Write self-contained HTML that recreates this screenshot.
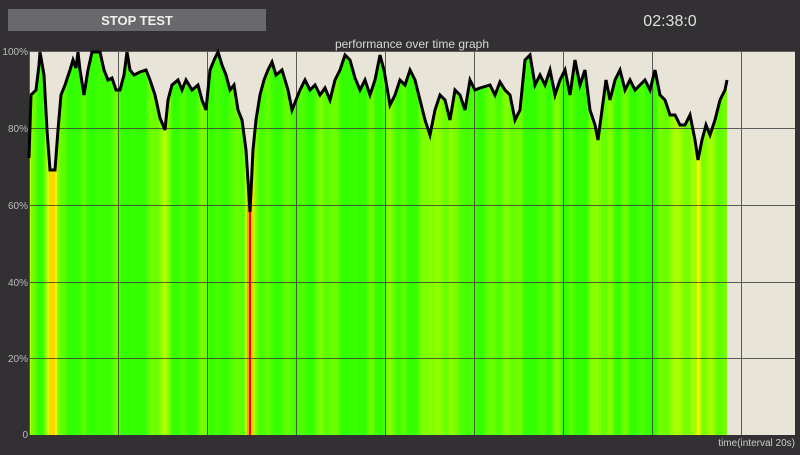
<!DOCTYPE html>
<html><head><style>
body{margin:0;width:800px;height:450px;background:#323033;overflow:hidden;font-family:"Liberation Sans",sans-serif}
</style></head><body>
<svg id="s" width="800" height="450" xmlns="http://www.w3.org/2000/svg">
<rect x="8" y="9" width="258" height="22" fill="#69686b"/>
<text x="137" y="25" fill="#f0f0f0" font-size="13" font-weight="bold" text-anchor="middle" font-family="Liberation Sans">STOP TEST</text>
<text x="670" y="26" fill="#e0e0e0" font-size="16" text-anchor="middle" font-family="Liberation Sans">02:38:0</text>
<text x="412" y="48" fill="#d8d8d8" font-size="12" text-anchor="middle" font-family="Liberation Sans">performance over time graph</text>
<rect x="29" y="51" width="766" height="384" fill="#e8e4d8"/>
<defs><clipPath id="c"><polygon id="cp"/></clipPath></defs>
<g id="bars" clip-path="url(#c)"></g>
<g id="grid" stroke="#3a3a3a" stroke-width="1" opacity="0.8"></g>
<polyline id="ln" fill="none" stroke="#000" stroke-width="3" stroke-linejoin="miter"/>
<g fill="#bbb" font-size="10" font-family="Liberation Sans" text-anchor="end">
<text x="28" y="55">100%</text><text x="28" y="132">80%</text><text x="28" y="209">60%</text><text x="28" y="286">40%</text><text x="28" y="362">20%</text><text x="28" y="438">0</text>
</g>
<text x="795" y="446" fill="#ccc" font-size="10" text-anchor="end" font-family="Liberation Sans">time(interval 20s)</text>
</svg>
<script>
var p=[[29,158],[31,95],[36,90],[39,65],[40,52],[44,75],[47,130],[50,170],[55,170],[58,130],[61,95],[65,85],[70,70],[73,60],[76,68],[78,52],[80,70],[84,95],[88,70],[92,52],[100,52],[104,70],[108,80],[112,78],[116,90],[120,90],[124,75],[127,52],[130,70],[134,75],[140,72],[146,70],[150,80],[155,95],[160,118],[165,130],[168,100],[172,85],[178,80],[182,90],[186,80],[192,90],[198,85],[202,100],[206,110],[210,70],[215,58],[218,52],[222,65],[226,75],[230,90],[234,85],[238,110],[242,120],[246,150],[250,212],[253,150],[256,120],[260,95],[264,80],[268,70],[272,62],[276,75],[282,70],[288,90],[292,110],[296,100],[300,90],[305,80],[310,90],[315,85],[320,95],[325,88],[330,100],[335,80],[340,70],[345,55],[350,60],[355,78],[360,90],[365,80],[370,95],[375,80],[380,55],[384,70],[390,105],[395,95],[400,80],[405,85],[410,70],[415,80],[420,100],[425,120],[430,135],[435,110],[440,95],[445,100],[450,120],[455,90],[460,95],[465,110],[470,80],[475,90],[480,88],[490,85],[495,95],[500,82],[505,90],[510,95],[515,120],[520,110],[525,60],[530,55],[535,85],[540,75],[545,85],[550,70],[555,95],[560,80],[565,70],[570,95],[575,60],[580,85],[585,70],[590,110],[595,125],[598,140],[602,110],[606,80],[610,100],[615,80],[620,70],[625,90],[630,80],[635,90],[640,85],[645,80],[650,90],[655,70],[660,95],[665,100],[670,115],[675,115],[680,125],[685,125],[690,115],[695,140],[698,160],[702,140],[706,125],[710,135],[715,120],[720,100],[725,90],[727,80]];
var NS="http://www.w3.org/2000/svg";
var str=p.map(function(a){return a.join(",")}).join(" ");
document.getElementById("ln").setAttribute("points",str);
document.getElementById("cp").setAttribute("points",str+" 727,435 29,435");
function yat(x){for(var i=1;i<p.length;i++){if(x<=p[i][0]){var a=p[i-1],b=p[i];return a[1]+(b[1]-a[1])*(x-a[0])/(b[0]-a[0]);}}return 80;}
var g=document.getElementById("bars");
for(var x=29;x<727;x+=2){
 var v=(435-yat(x+1))/384*100;
 var n=Math.sin(x*0.37)*6+Math.sin(x*0.11)*5;
 var h;
 if(v>=75){h=78+(v-75)*1.5+n;}else{h=Math.max(0,78-(75-v)*4.6);}
 h=Math.max(0,Math.min(108,h));
 var r=document.createElementNS(NS,"rect");
 r.setAttribute("x",x);r.setAttribute("y",51);r.setAttribute("width",2.2);r.setAttribute("height",384);
 r.setAttribute("fill","hsl("+h+",100%,50%)");g.appendChild(r);
}
var gr=document.getElementById("grid");
[51,128,205,282,358].forEach(function(y){var l=document.createElementNS(NS,"line");l.setAttribute("x1",29);l.setAttribute("x2",795);l.setAttribute("y1",y+.5);l.setAttribute("y2",y+.5);gr.appendChild(l);});
[29,118,207,296,385,474,563,652,741].forEach(function(x){var l=document.createElementNS(NS,"line");l.setAttribute("x1",x+.5);l.setAttribute("x2",x+.5);l.setAttribute("y1",51);l.setAttribute("y2",435);gr.appendChild(l);});
</script>
</body></html>
